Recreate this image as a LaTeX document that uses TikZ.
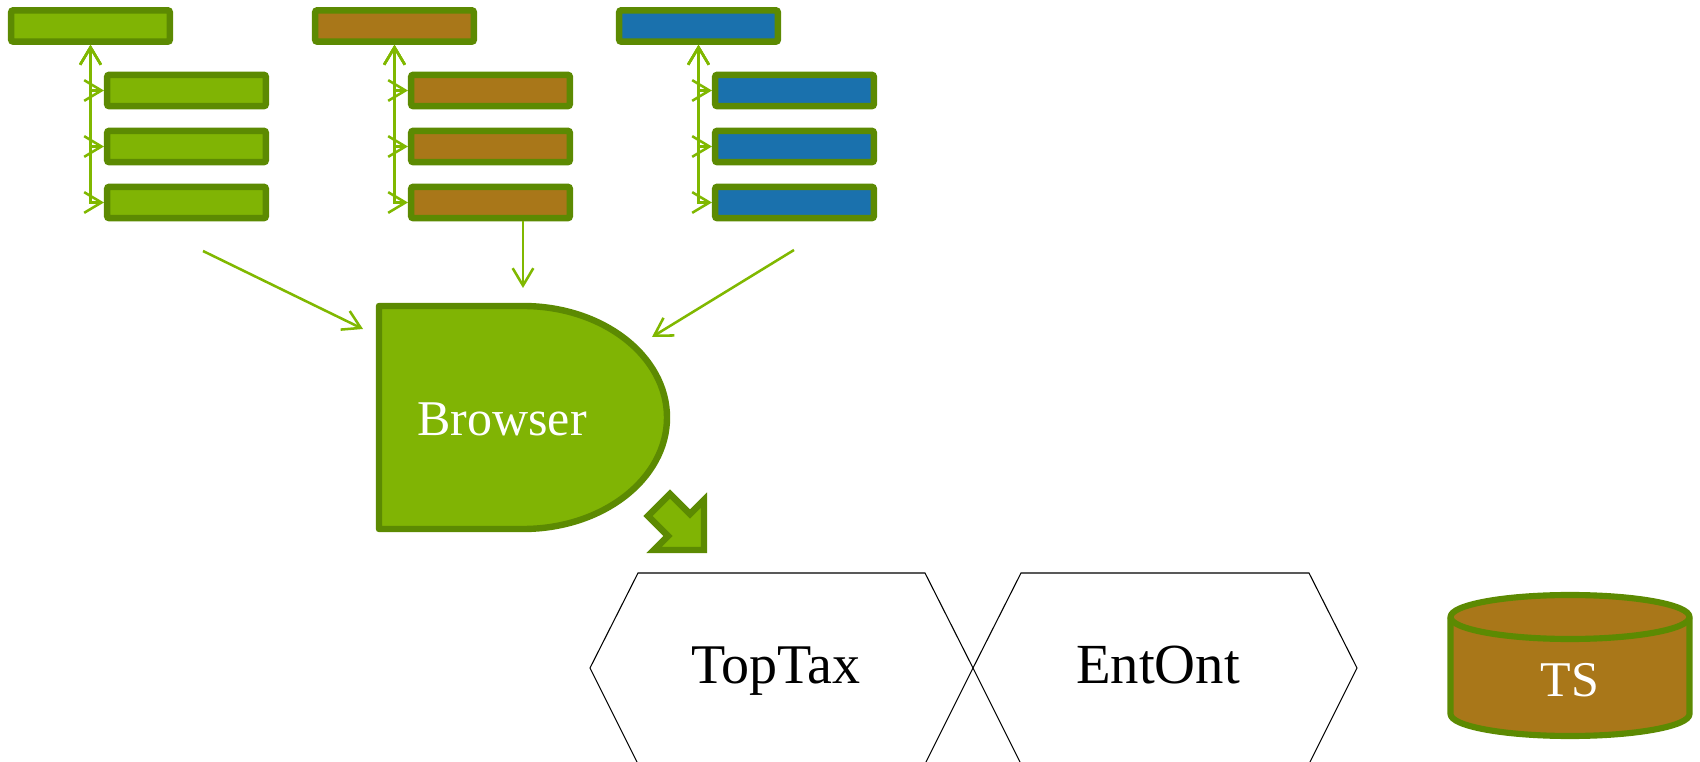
\documentclass[tikz,border=0pt]{standalone}
\usepackage{fontspec}
\setmainfont{Liberation Serif}
\usetikzlibrary{arrows.meta}

\definecolor{leafgreen}{HTML}{80B404}
\definecolor{edgegreen}{HTML}{5C8A02}
\definecolor{bark}{HTML}{A97719}
\definecolor{sea}{HTML}{1A71AD}
\definecolor{linkgreen}{HTML}{80B800}

\begin{document}
\begin{tikzpicture}[x=0.75pt,y=-0.75pt,
  smallbox/.style={draw=edgegreen, line width=4.8pt, rounded corners=1.5pt,
    minimum width=119pt, minimum height=23.5pt, inner sep=0pt},
  link/.style={draw=linkgreen, line width=1.9pt,
    >={Straight Barb[length=13pt,width=15.5pt]}},
  solid shape/.style={draw=edgegreen, fill=leafgreen, line width=4.8pt},
  hexline/.style={draw=black, line width=0.8pt, line join=miter},
  whitelabel/.style={text=white, inner sep=0pt, anchor=base},
  blacklabel/.style={text=black, inner sep=0pt, anchor=base}]

\useasboundingbox (0,0) rectangle (1700,762);

% three families of boxes, each a parent with three children
\foreach \c/\col in {0/leafgreen, 1/bark, 2/sea} {
  \node[smallbox, fill=\col] (top\c) at (90.5+304*\c, 26) {};
  \foreach \r in {1,2,3} {
    \node[smallbox, fill=\col] (sub\c\r) at (186.5+304*\c, 34.5+56*\r) {};
    \draw[link, <->] (top\c.south) |- (sub\c\r.west);
  }
}

% feeds into the browser
\coordinate (gfrom) at (203,251);
\coordinate (gto)   at (363,329);
\coordinate (bfrom) at (523,221);
\coordinate (bto)   at (523,288);
\coordinate (sfrom) at (794,250);
\coordinate (sto)   at (652,337);
\draw[link, ->] (gfrom) -- (gto);
\draw[link, ->] (bfrom) -- (bto);
\draw[link, ->] (sfrom) -- (sto);

% browser (delay shape)
\path[solid shape, line join=round]
  (379,306) -- (523,306)
  arc[start angle=-90, end angle=90, x radius=144, y radius=111.5]
  -- (379,529) -- cycle;
\node[whitelabel, font=\fontsize{37.5pt}{41pt}\selectfont] (browser) at (502,436) {Browser};

% block arrow pointing down-right
\path[solid shape, line join=miter]
  (704,550) -- (654,550) -- (668,536) -- (648,516) -- (670,494)
  -- (690,514) -- (704,500) -- cycle;

% hexagons
\draw[hexline] (590,668) -- (638,573) -- (925,573) -- (973,668)
  -- (925,764) -- (638,764) -- cycle;
\draw[hexline] (973,668) -- (1021,573) -- (1309,573) -- (1357,668)
  -- (1309,764) -- (1021,764) -- cycle;
\node[blacklabel, font=\fontsize{42pt}{46pt}\selectfont] (toptax) at (776,683) {TopTax};
\node[blacklabel, font=\fontsize{42.5pt}{46pt}\selectfont] (entont) at (1158,683) {EntOnt};

% triple store cylinder
\path[fill=bark, draw=edgegreen, line width=4.6pt, line join=round]
  (1450.5,617) -- (1450.5,714)
  arc[start angle=180, end angle=0, x radius=119.5, y radius=22]
  -- (1689.5,617)
  arc[start angle=0, end angle=-180, x radius=119.5, y radius=22] -- cycle;
\draw[edgegreen, line width=4.6pt]
  (1450.5,617) arc[start angle=180, end angle=0, x radius=119.5, y radius=22];
\node[whitelabel, font=\fontsize{37.5pt}{41pt}\selectfont] (ts) at (1570,696) {TS};

\end{tikzpicture}
\end{document}
